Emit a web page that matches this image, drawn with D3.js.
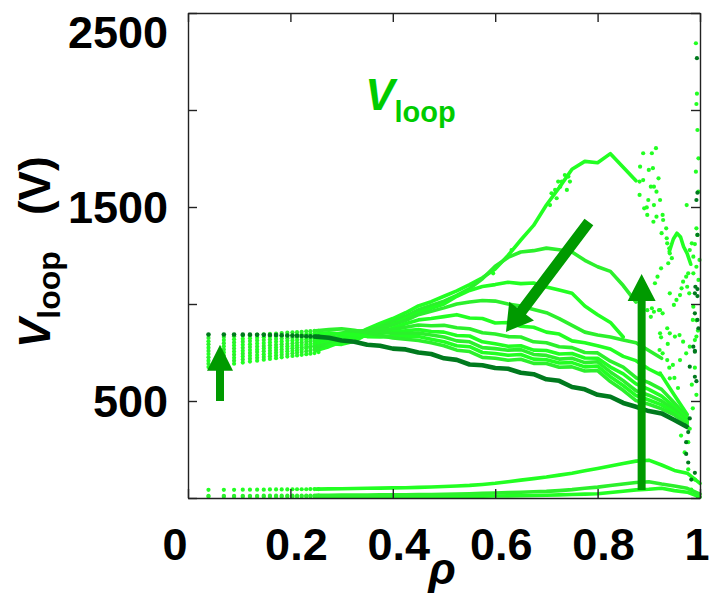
<!DOCTYPE html>
<html><head><meta charset="utf-8">
<script src="https://cdn.jsdelivr.net/npm/d3@7"></script>
<style>
body{margin:0;background:#fff}
svg{display:block}
text{font-family:"Liberation Sans",Arial,sans-serif;font-weight:bold;fill:#000}
</style>
</head><body>
<svg id="chart" width="711" height="598"></svg>
<script>
// ---------- data ----------
const xTicks = [0, 0.2, 0.4, 0.6, 0.8, 1];
const xTickLabels = ["0", "0.2", "0.4", "0.6", "0.8", "1"];
const yTicks = [0, 500, 1000, 1500, 2000, 2500];
const yTickLabels = ["", "500", "", "1500", "", "2500"];

// rho grid where the core of each profile shows as separate dots
const rhoDots = [0.040,0.070,0.090,0.107,0.121,0.135,0.148,0.160,0.172,0.183,0.194,0.204,0.213,0.222,0.231,0.239,0.247,0.255];
// rho knots of the continuous part of each profile
const rhoLine = [0.25,0.275,0.30,0.325,0.35,0.375,0.40,0.425,0.45,0.475,0.50,0.525,0.55,0.575,0.60,0.625,0.65,0.675,0.70,0.725,0.75,0.775,0.80,0.825,0.85,0.875,0.90,0.925,0.95,0.975,1.0];

// light-green profiles (earliest first), V_loop in volts
const dotsA = [675,685,692,698,703,708,713,717,721,725,729,732,735,738,741,744,747,752];
const dotsB = [692,702,708,714,718,723,727,731,735,739,742,746,749,752,756,760,765,772];
const dotsC = [708,717,723,729,733,737,741,745,749,752,756,759,762,766,772,776,782,788];
const dotsD = [725,734,739,744,748,752,756,759,763,766,769,772,775,777,780,782,784,786];
const dotsE = [742,750,755,759,763,766,770,773,776,779,782,784,787,789,792,794,797,800];
const dotsF = [758,765,770,774,778,781,784,787,790,792,795,798,800,802,805,808,810,812];
const dotsG = [775,782,786,790,793,796,799,802,805,807,810,812,814,816,818,820,822,808];
const dotsH = [792,798,802,806,809,812,814,817,819,822,824,826,828,830,832,833,835,830];
const dotsI = [808,814,818,821,824,826,829,831,833,835,837,839,841,843,844,846,848,845];
const dotsJ = [825,830,834,837,839,842,844,846,848,850,852,854,855,857,859,860,862,862];
const dotsDark = [843,843,843,842,842,841,841,840,840,839,838,837,836,835,834,833,832,831];

const lineA = [760,780,805,838,872,900,925,955,990,1012,1040,1068,1100,1135,1180,1250,1330,1405,1510,1600,1695,1735,1728,1775,1705,1635,null,null,null,null,null];
const lineB = [775,792,812,830,858,885,910,938,970,992,1015,1045,1080,1130,1195,1240,1268,1275,1288,1280,1268,1225,1192,1168,1095,1010,null,null,null,null,null];
const lineC = [790,795,792,808,845,868,895,925,955,978,1000,1040,1070,1090,1100,1112,1105,1108,1088,1072,1055,990,945,905,830,null,null,null,null,null,null];
const lineD = [785,805,822,845,868,880,892,915,945,962,980,1000,1010,1018,1015,1000,990,972,955,925,890,855,840,830,815,800,760,720,null,null,null];
const lineE = [800,812,818,826,838,855,875,898,918,925,935,945,928,925,902,905,885,880,855,845,810,800,785,768,730,708,665,632,530,430,null];
const lineF = [812,820,835,850,862,870,868,880,892,888,890,878,872,852,845,832,830,805,800,780,775,750,748,705,675,620,595,560,490,415,null];
const lineG = [808,826,828,838,842,848,855,862,868,858,855,838,835,805,795,782,785,762,760,742,745,722,720,675,640,588,560,525,470,405,null];
const lineH = [830,840,850,860,862,856,848,848,850,840,830,810,805,775,770,762,765,740,735,716,720,698,702,650,605,553,530,500,455,395,null];
const lineI = [845,852,845,842,832,830,832,832,832,818,805,785,780,750,745,736,740,716,713,696,698,676,680,625,580,528,505,480,440,390,null];
const lineJ = [862,868,872,865,852,838,825,818,812,800,785,762,755,725,720,710,715,694,693,674,676,655,657,600,555,502,483,460,428,382,null];
const lineDark = [832,826,812,805,790,785,770,766,750,742,720,712,688,684,670,666,646,638,612,604,572,560,532,522,490,470,448,436,402,366,null];

// three low early-time profiles
const dotsLow1 = [42,42,42,43,43,43,43,44,44,44,44,45,45,45,45,46,46,46];
const dotsLow2 = [11,11,11,11,11,11,12,12,12,12,12,12,12,13,13,13,13,13];
const dotsLow3 = [7,7,7,7,7,7,7,7,7,7,7,7,7,7,7,7,7,7];
const lineLow1 = [46,47,48,49,50,51,52,53,55,57,59,62,65,70,76,84,92,100,108,118,128,140,152,165,178,190,195,170,142,128,75];
const lineLow2 = [14,14,15,15,15,16,16,17,18,18,19,20,22,24,26,28,30,32,34,38,43,50,56,64,72,80,84,72,62,50,20];
const lineLow3 = [6,6,6,6,6,6,7,7,7,7,7,8,8,9,10,11,12,13,14,16,18,20,22,28,35,42,45,50,38,30,5];

// short separate segment near the edge
const edgeSegment = [[0.940,1270],[0.948,1335],[0.955,1365],[0.962,1345],[0.968,1295],[0.975,1260],[0.982,1205]];

// scattered edge points [rho, V]
const scatterLight = [[0.889,1777],[0.906,1777],[0.914,1803],[0.883,1708],[0.900,1691],[0.908,1700],[0.919,1648],[0.882,1631],[0.889,1639],[0.904,1605],[0.910,1605],[0.915,1579],[0.882,1562],[0.899,1536],[0.910,1510],[0.922,1536],[0.891,1493],[0.896,1498],[0.927,1459],[0.915,1450],[0.897,1459],[0.909,1424],[0.928,1433],[0.925,1365],[0.934,1390],[0.935,1339],[0.936,1313],[0.940,1287],[0.941,1261],[0.945,1236],[0.938,1210],[0.924,1184],[0.917,1141],[0.912,1107],[0.906,978],[0.910,960],[0.922,969],[0.927,952],[0.941,1055],[0.949,995],[0.954,1021],[0.961,1046],[0.964,1081],[0.975,1089],[0.979,1055],[0.967,1115],[0.973,1141],[0.977,1158],[0.922,849],[0.936,875],[0.941,849],[0.951,832],[0.960,840],[0.967,806],[0.921,763],[0.927,746],[0.936,711],[0.947,686],[0.922,643],[0.941,617],[0.961,711],[0.973,746],[0.980,780],[0.990,814],[0.995,1897],[0.997,1751],[0.992,1682],[0.997,1579],[0.974,1510],[0.993,1390],[0.995,1356],[0.984,1313],[0.990,1309],[0.980,1278],[0.987,1244],[0.999,1227],[0.993,1192],[0.987,1158],[0.997,1124],[0.987,986],[0.986,918],[0.993,832],[0.992,2344],[0.994,2084],[0.993,2031],[0.897,968],[0.904,934],[0.920,968],[0.924,828],[0.937,794],[0.940,672],[0.950,619],[0.957,567],[0.963,322],[0.970,235],[0.977,148],[0.990,95],[0.980,357],[0.986,462],[0.993,916],[0.996,863],[0.990,672],[0.984,584],[0.993,532],[0.977,288],[0.983,43],[0.996,5],[0.707,1510],[0.710,1571],[0.717,1588],[0.723,1631],[0.730,1631],[0.736,1665],[0.743,1657],[0.746,1631],[0.740,1588],[0.720,1545],[0.727,1605],[0.632,1278],[0.596,1158]];
const scatterDark = [[0.991,1089],[0.990,1055],[0.990,952],[0.997,875],[0.987,780],[0.990,754],[0.980,677],[0.990,625],[0.995,1574],[0.993,1536],[0.994,2267],[0.990,759],[0.993,602],[0.977,340],[0.973,288],[0.973,227],[0.977,183],[0.983,95],[0.990,130],[0.980,410],[0.970,375],[0.995,1356],[0.995,1077],[0.995,1041],[0.995,918]];

// annotation arrows: tail and tip in data units
const arrowTails = [[0.0625,500],[0.783,1423],[0.886,41]];
const arrowTips  = [[0.0625,790],[0.621,856],[0.886,1155]];

// ---------- drawing ----------
const svg = d3.select("#chart");
const x = d3.scaleLinear().domain([0, 1]).range([188, 700]);
const y = d3.scaleLinear().domain([0, 2500]).range([498, 13]);

const LIGHT = "#22ff22", LIGHT2 = "#2cf02c", DARK = "#007a1e", ARROW = "#009a00";

svg.append("defs").append("clipPath").attr("id", "plotclip")
  .append("rect").attr("x", x(0) - 3).attr("y", y(2500)).attr("width", x(1) - x(0) + 6).attr("height", y(0) - y(2500) + 1);
const plot = svg.append("g").attr("clip-path", "url(#plotclip)");

const lineGen = d3.line().defined(d => d[1] != null).x(d => x(d[0])).y(d => y(d[1]));

function drawProfile(dots, vals, color, width) {
  plot.append("path").datum(rhoLine.map((r, i) => [r, vals[i]]))
    .attr("d", lineGen).attr("fill", "none").attr("stroke", color)
    .attr("stroke-width", width).attr("stroke-linejoin", "round").attr("stroke-linecap", "round");
  plot.append("g").selectAll("circle").data(rhoDots.map((r, i) => [r, dots[i]])).join("circle")
    .attr("cx", d => x(d[0])).attr("cy", d => y(d[1])).attr("r", width > 4 ? 2.3 : 2.1).attr("fill", color);
}

drawProfile(dotsLow3, lineLow3, LIGHT, 3.6);
drawProfile(dotsLow2, lineLow2, LIGHT2, 3.6);
drawProfile(dotsLow1, lineLow1, LIGHT, 3.6);

const lights = [[dotsA, lineA], [dotsB, lineB], [dotsC, lineC], [dotsD, lineD], [dotsE, lineE],
                [dotsF, lineF], [dotsG, lineG], [dotsH, lineH], [dotsI, lineI], [dotsJ, lineJ]];
lights.forEach((p, k) => drawProfile(p[0], p[1], k % 2 ? LIGHT2 : LIGHT, 3.6));
drawProfile(dotsDark, lineDark, DARK, 4.6);

plot.append("path").datum(edgeSegment).attr("d", lineGen).attr("fill", "none")
  .attr("stroke", LIGHT).attr("stroke-width", 3.6).attr("stroke-linejoin", "round").attr("stroke-linecap", "round");

plot.append("g").selectAll("circle").data(scatterLight).join("circle")
  .attr("cx", d => x(d[0])).attr("cy", d => y(d[1])).attr("r", 2.1).attr("fill", LIGHT);
plot.append("g").selectAll("circle").data(scatterDark).join("circle")
  .attr("cx", d => x(d[0])).attr("cy", d => y(d[1])).attr("r", 2.1).attr("fill", DARK);

// arrows
const arrowSizes = [[8, 26, 26], [11, 26, 31], [8, 27, 28]]; // shaft width, head length, head width
function arrowPts(x0, y0, x1, y1, sw, hl, hw) {
  const dx = x1 - x0, dy = y1 - y0, L = Math.hypot(dx, dy), ux = dx / L, uy = dy / L, nx = -uy, ny = ux;
  const bx = x1 - ux * hl, by = y1 - uy * hl;
  return [[x0 + nx * sw / 2, y0 + ny * sw / 2], [bx + nx * sw / 2, by + ny * sw / 2], [bx + nx * hw / 2, by + ny * hw / 2],
          [x1, y1], [bx - nx * hw / 2, by - ny * hw / 2], [bx - nx * sw / 2, by - ny * sw / 2], [x0 - nx * sw / 2, y0 - ny * sw / 2]];
}
arrowTails.forEach((t, i) => {
  const p = arrowPts(x(t[0]), y(t[1]), x(arrowTips[i][0]), y(arrowTips[i][1]), ...arrowSizes[i]);
  svg.append("polygon").attr("points", p.map(q => q.join(",")).join(" ")).attr("fill", ARROW);
});

// frame and inward ticks on all sides
const axisColor = "#222";
const gB = svg.append("g").attr("transform", `translate(0,${y(0)})`)
  .call(d3.axisBottom(x).tickValues(xTicks).tickSizeInner(-9).tickSizeOuter(0).tickFormat(""));
const gT = svg.append("g").attr("transform", `translate(0,${y(2500)})`)
  .call(d3.axisTop(x).tickValues(xTicks).tickSizeInner(-9).tickSizeOuter(0).tickFormat(""));
const gL = svg.append("g").attr("transform", `translate(${x(0)},0)`)
  .call(d3.axisLeft(y).tickValues(yTicks).tickSizeInner(-9).tickSizeOuter(0).tickFormat(""));
const gR = svg.append("g").attr("transform", `translate(${x(1)},0)`)
  .call(d3.axisRight(y).tickValues(yTicks).tickSizeInner(-9).tickSizeOuter(0).tickFormat(""));
[gB, gT, gL, gR].forEach(g => {
  g.selectAll("path,line").attr("stroke", axisColor).attr("stroke-width", 1.4);
});

// tick labels
const xLabelShift = v => v === 0 ? -13 : (v === 1 ? -3 : 6);
svg.append("g").selectAll("text").data(xTicks).join("text")
  .attr("x", d => x(d) + xLabelShift(d)).attr("y", 560)
  .attr("text-anchor", "middle").style("font-size", "45px")
  .text((d, i) => xTickLabels[i]);
svg.append("g").selectAll("text").data(yTicks).join("text")
  .attr("x", 168).attr("y", d => Math.max(y(d), 32)).attr("dy", "0.36em")
  .attr("text-anchor", "end").style("font-size", "45px")
  .text((d, i) => yTickLabels[i]);

// axis titles
svg.append("text").attr("x", 442).attr("y", 584).attr("text-anchor", "middle")
  .style("font-size", "45px").style("font-style", "italic").text("ρ");

const yt = svg.append("text").attr("transform", "translate(50,348) rotate(-90)")
  .attr("text-anchor", "start").style("font-size", "44px");
yt.append("tspan").style("font-style", "italic").text("V");
yt.append("tspan").attr("dy", 10).style("font-size", "32px").text("loop");
yt.append("tspan").attr("dy", -10).attr("dx", 36).text("(V)");

// in-plot label
const lab = svg.append("text").attr("x", x(0.346)).attr("y", y(2000)).style("font-size", "44px").style("fill", "#00cc00");
lab.append("tspan").style("font-style", "italic").style("fill", "#00cc00").text("V");
lab.append("tspan").attr("dy", 12).style("font-size", "29px").style("fill", "#00cc00").text("loop");
</script>
</body></html>
